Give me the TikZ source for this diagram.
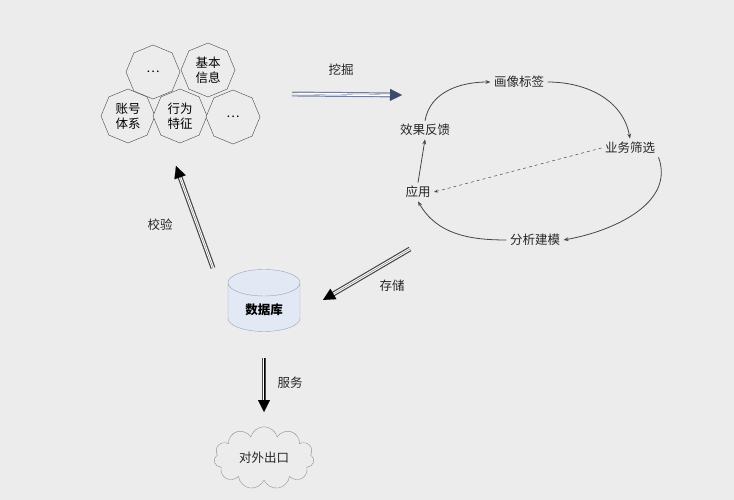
\documentclass[tikz,border=0pt]{standalone}
\usepackage{fontspec}
\setmainfont{Noto Sans CJK SC}
\usetikzlibrary{shapes.geometric,shapes.symbols,arrows.meta}
\definecolor{bg}{RGB}{236,236,236}
\definecolor{ln}{RGB}{70,70,70}
\definecolor{dbf}{RGB}{226,232,244}
\definecolor{dbl}{RGB}{150,165,195}
\definecolor{hb}{RGB}{60,72,110}
\tikzset{
  oct/.style={regular polygon,regular polygon sides=8,shape border rotate=22.5,draw=ln,minimum size=54pt,inner sep=0pt,align=center,font=\fontsize{12.5}{15}\selectfont,fill=bg},
  lbl/.style={font=\fontsize{12.5}{14}\selectfont,text=black!85},
  shaft/.style={draw=#1,double=white,double distance=2.5pt,line width=1.2pt},
  tip/.style={draw=#1,line width=0.1pt,-{Triangle[length=12pt,width=12pt]}},
  curv/.style={draw=ln,line width=0.8pt,-{Stealth[length=5pt]}}
}
\begin{document}
\begin{tikzpicture}[x=1pt,y=-1pt]
\path[fill=bg] (0,0) rectangle (734,500);
\useasboundingbox (0,0) rectangle (734,500);
% octagons
\node[oct] (o1) at (153,72) {…};
\node[oct] (o2) at (208,70) {基本\\信息};
\node[oct] (o3) at (128,116) {账号\\体系};
\node[oct] (o4) at (180,116) {行为\\特征};
\node[oct] (o5) at (233,117) {…};
% database
\node[cylinder,shape border rotate=90,draw=dbl,fill=dbf,minimum width=72pt,minimum height=62pt,aspect=0.6,font=\fontsize{12.5}{14}\selectfont\bfseries] (db) at (264,310) {数据库};
% cloud
\node[cloud,cloud puffs=11,draw=ln!60,fill=bg,minimum width=100pt,minimum height=62pt,aspect=1.7,lbl] (cl) at (264,458) {对外出口};
% cycle nodes
\node[lbl] (hx) at (519,82) {画像标签};
\node[lbl] (yw) at (630,148) {业务筛选};
\node[lbl] (fx) at (535,240) {分析建模};
\node[lbl] (yy) at (418,192) {应用};
\node[lbl] (xg) at (425,130) {效果反馈};
% coordinates for big arrows
\coordinate (a1) at (292,94); \coordinate (a2) at (402,95);
\coordinate (b1) at (213,268); \coordinate (b2) at (176,166);
\coordinate (c1) at (410,249); \coordinate (c2) at (323,300);
\coordinate (d1) at (264,358); \coordinate (d2) at (264,412);
\draw[shaft=hb!70,shorten >=10pt] (a1) -- (a2);
\draw[tip=hb] (a1) -- (a2);
\draw[shaft=ln,shorten >=10pt] (b1) -- (b2);
\draw[tip=black] (b1) -- (b2);
\draw[shaft=ln,shorten >=10pt] (c1) -- (c2);
\draw[tip=black] (c1) -- (c2);
\draw[shaft=ln,shorten >=10pt] (d1) -- (d2);
\draw[tip=black] (d1) -- (d2);
\node[lbl] (l1) at (341,70) {挖掘};
\node[lbl] (l2) at (160,225) {校验};
\node[lbl] (l3) at (392,286) {存储};
\node[lbl] (l4) at (290,383) {服务};
% cycle arrows
\draw[curv] (xg.north) to[out=80,in=180] (hx.west);
\draw[curv] (hx.east) to[out=0,in=100] (yw.north);
\draw[curv] (yw.south east) to[out=-70,in=10] (fx.east);
\draw[curv] (fx.west) to[out=180,in=-60] (yy.south);
\draw[curv] (yy.north) -- (xg.south);
\draw[draw=ln,dashed,line width=0.5pt,-{Stealth[length=4pt]}] (yw.west) -- (yy.east);
\end{tikzpicture}
\end{document}
